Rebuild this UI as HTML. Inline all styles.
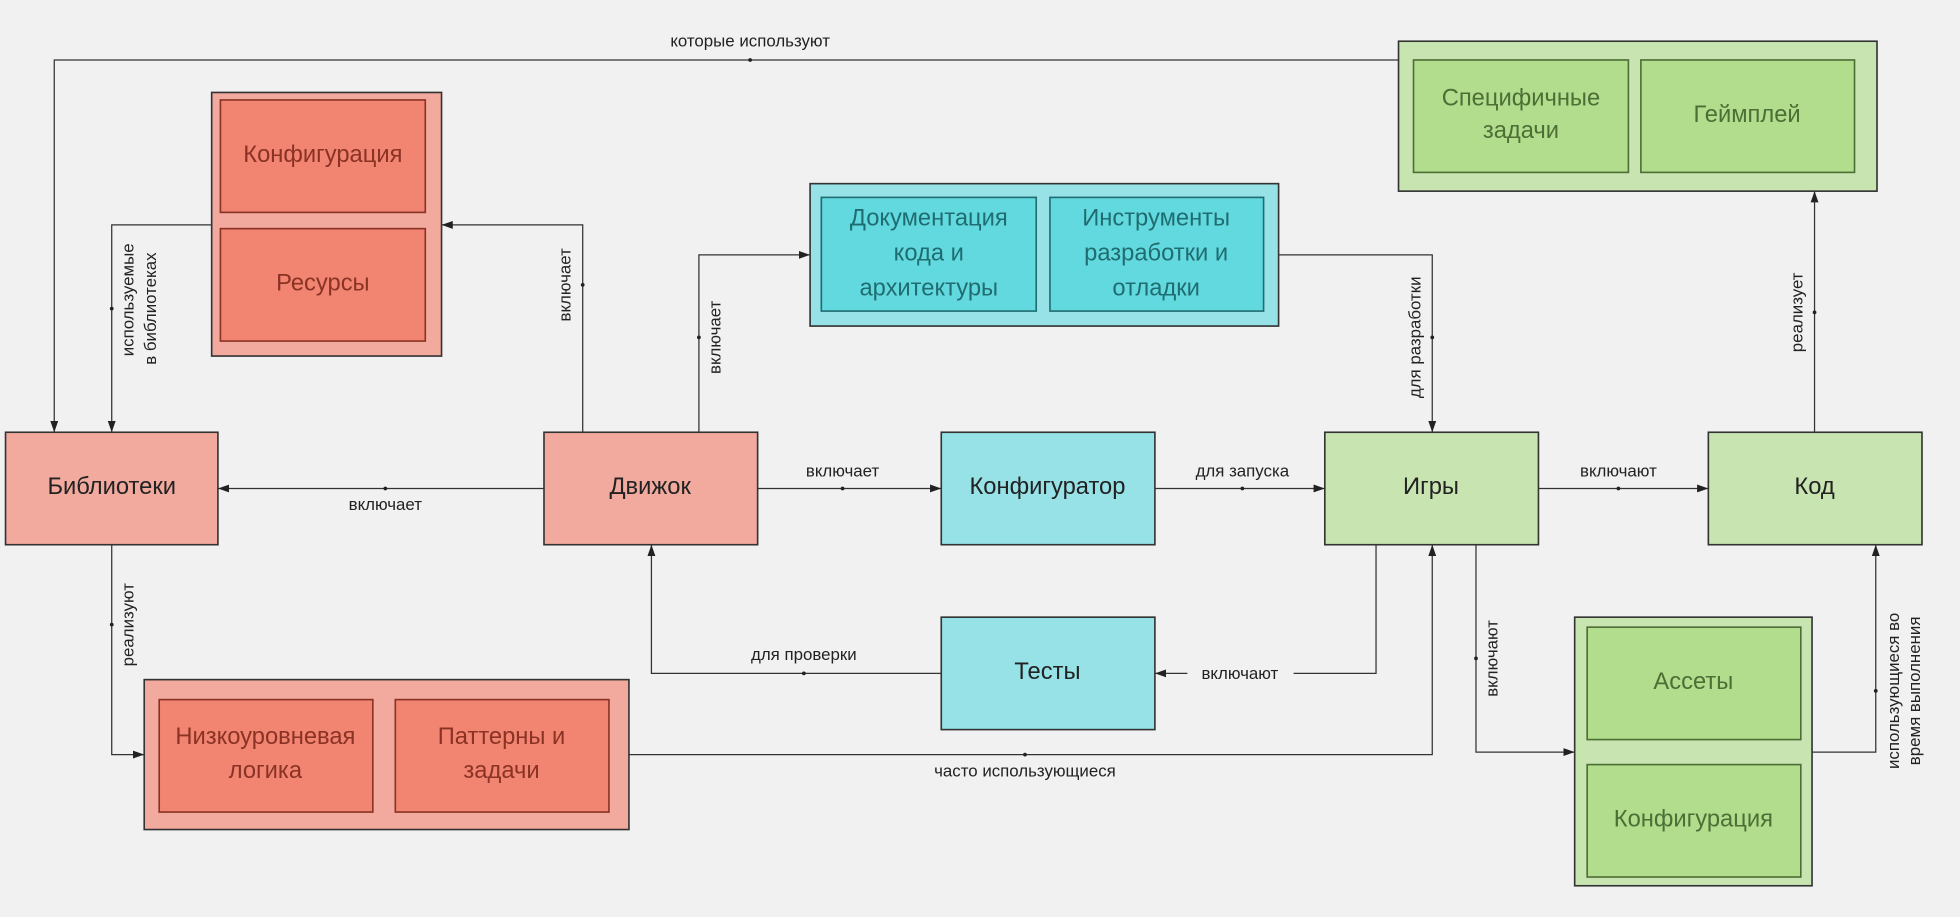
<!DOCTYPE html>
<html><head><meta charset="utf-8"><style>
html,body{margin:0;padding:0;background:#f1f1f1;width:1960px;height:917px;overflow:hidden}
svg{display:block}
text{font-family:"Liberation Sans","DejaVu Sans",sans-serif}
.m{font-size:19px;fill:#222;text-anchor:middle;dominant-baseline:central}
.e{font-size:13.5px;fill:#222;text-anchor:middle;dominant-baseline:central}
.r{fill:#8a3324}.c{fill:#1f6d70}.g{fill:#4d6e35}
.ln{stroke:#333;stroke-width:1;fill:none}
</style></head><body>
<svg width="1960" height="917" viewBox="0 0 1568 734" xmlns="http://www.w3.org/2000/svg">
<defs><marker id="a" viewBox="0 0 10 10" refX="10" refY="5" markerWidth="9" markerHeight="9" orient="auto" markerUnits="userSpaceOnUse"><path d="M0,1.5 L10,5 L0,8.5z" fill="#222"/></marker></defs>
<rect width="1568" height="734" fill="#f1f1f1"/>
<!-- connectors -->
<g class="ln">
<path d="M1119,48 H43 V346" marker-end="url(#a)"/>
<path d="M169,180 H89 V346" marker-end="url(#a)"/>
<path d="M466,346 V180 H353" marker-end="url(#a)"/>
<path d="M559,346 V204 H648" marker-end="url(#a)"/>
<path d="M435,391 H174" marker-end="url(#a)"/>
<path d="M606,391 H753" marker-end="url(#a)"/>
<path d="M924,391 H1060" marker-end="url(#a)"/>
<path d="M1231,391 H1367" marker-end="url(#a)"/>
<path d="M1023,204 H1146 V346" marker-end="url(#a)"/>
<path d="M1452,346 V153" marker-end="url(#a)"/>
<path d="M1101,436 V539 H1035"/>
<path d="M950,539 H924" marker-end="url(#a)"/>
<path d="M753,539 H521 V436" marker-end="url(#a)"/>
<path d="M89,436 V604 H115" marker-end="url(#a)"/>
<path d="M503,604 H1146 V436" marker-end="url(#a)"/>
<path d="M1181,436 V602 H1260" marker-end="url(#a)"/>
<path d="M1450,602 H1501 V436" marker-end="url(#a)"/>
</g>
<g fill="#222">
<circle cx="600" cy="48" r="1.5"/><circle cx="89" cy="247" r="1.5"/><circle cx="466" cy="228" r="1.5"/>
<circle cx="559" cy="270" r="1.5"/><circle cx="308" cy="391" r="1.5"/><circle cx="674" cy="391" r="1.5"/>
<circle cx="994" cy="391" r="1.5"/><circle cx="1295" cy="391" r="1.5"/><circle cx="1146" cy="270" r="1.5"/>
<circle cx="1452" cy="250" r="1.5"/><circle cx="643" cy="539" r="1.5"/><circle cx="89" cy="500" r="1.5"/>
<circle cx="820" cy="604" r="1.5"/><circle cx="1181" cy="527" r="1.5"/><circle cx="1501" cy="553" r="1.5"/>
</g>
<!-- edge labels -->
<text class="e" x="600" y="33">которые используют</text>
<text class="e" x="308" y="404">включает</text>
<text class="e" x="674" y="377">включает</text>
<text class="e" x="994" y="377">для запуска</text>
<text class="e" x="1295" y="377">включают</text>
<text class="e" x="992" y="539">включают</text>
<text class="e" x="643" y="524">для проверки</text>
<text class="e" x="820" y="617">часто использующиеся</text>
<text class="e" transform="translate(102,240) rotate(-90)">используемые</text>
<text class="e" transform="translate(120,247) rotate(-90)">в библиотеках</text>
<text class="e" transform="translate(452,228) rotate(-90)">включает</text>
<text class="e" transform="translate(572,270) rotate(-90)">включает</text>
<text class="e" transform="translate(1132,270) rotate(-90)">для разработки</text>
<text class="e" transform="translate(1438,250) rotate(-90)">реализует</text>
<text class="e" transform="translate(102,500) rotate(-90)">реализуют</text>
<text class="e" transform="translate(1194,527) rotate(-90)">включают</text>
<text class="e" transform="translate(1515,553) rotate(-90)">использующиеся во</text>
<text class="e" transform="translate(1532,553) rotate(-90)">время выполнения</text>
<!-- simple nodes -->
<g stroke="#333" stroke-width="1.3">
<rect x="4" y="346" width="170" height="90" fill="#f2aa9e"/>
<rect x="435" y="346" width="171" height="90" fill="#f2aa9e"/>
<rect x="753" y="346" width="171" height="90" fill="#96e2e6"/>
<rect x="753" y="494" width="171" height="90" fill="#96e2e6"/>
<rect x="1060" y="346" width="171" height="90" fill="#c8e5b1"/>
<rect x="1367" y="346" width="171" height="90" fill="#c8e5b1"/>
<rect x="169" y="74" width="184" height="211" fill="#f2aa9e"/>
<rect x="115" y="544" width="388" height="120" fill="#f2aa9e"/>
<rect x="648" y="147" width="375" height="114" fill="#96e2e6"/>
<rect x="1119" y="33" width="383" height="120" fill="#c8e5b1"/>
<rect x="1260" y="494" width="190" height="215" fill="#c8e5b1"/>
</g>
<g stroke-width="1.3">
<rect x="176" y="80" width="164" height="90" fill="#f28472" stroke="#8a3324"/>
<rect x="176" y="183" width="164" height="90" fill="#f28472" stroke="#8a3324"/>
<rect x="127" y="560" width="171" height="90" fill="#f28472" stroke="#8a3324"/>
<rect x="316" y="560" width="171" height="90" fill="#f28472" stroke="#8a3324"/>
<rect x="657" y="158" width="172" height="91" fill="#62d9df" stroke="#1f6d70"/>
<rect x="840" y="158" width="171" height="91" fill="#62d9df" stroke="#1f6d70"/>
<rect x="1131" y="48" width="172" height="90" fill="#b1dd8c" stroke="#4d6e35"/>
<rect x="1313" y="48" width="171" height="90" fill="#b1dd8c" stroke="#4d6e35"/>
<rect x="1270" y="502" width="171" height="90" fill="#b1dd8c" stroke="#4d6e35"/>
<rect x="1270" y="612" width="171" height="90" fill="#b1dd8c" stroke="#4d6e35"/>
</g>
<!-- node text -->
<text class="m" x="89" y="390">Библиотеки</text>
<text class="m" x="520" y="390">Движок</text>
<text class="m" x="838" y="390">Конфигуратор</text>
<text class="m" x="838" y="538">Тесты</text>
<text class="m" x="1145" y="390">Игры</text>
<text class="m" x="1452" y="390">Код</text>
<text class="m r" x="258" y="124">Конфигурация</text>
<text class="m r" x="258" y="227">Ресурсы</text>
<text class="m r" x="212" y="590">Низкоуровневая</text>
<text class="m r" x="212" y="617">логика</text>
<text class="m r" x="401" y="590">Паттерны и</text>
<text class="m r" x="401" y="617">задачи</text>
<text class="m c" x="743" y="175">Документация</text>
<text class="m c" x="743" y="203">кода и</text>
<text class="m c" x="743" y="231">архитектуры</text>
<text class="m c" x="925" y="175">Инструменты</text>
<text class="m c" x="925" y="203">разработки и</text>
<text class="m c" x="925" y="231">отладки</text>
<text class="m g" x="1217" y="79">Специфичные</text>
<text class="m g" x="1217" y="105">задачи</text>
<text class="m g" x="1398" y="92">Геймплей</text>
<text class="m g" x="1355" y="546">Ассеты</text>
<text class="m g" x="1355" y="656">Конфигурация</text>
</svg>
</body></html>
